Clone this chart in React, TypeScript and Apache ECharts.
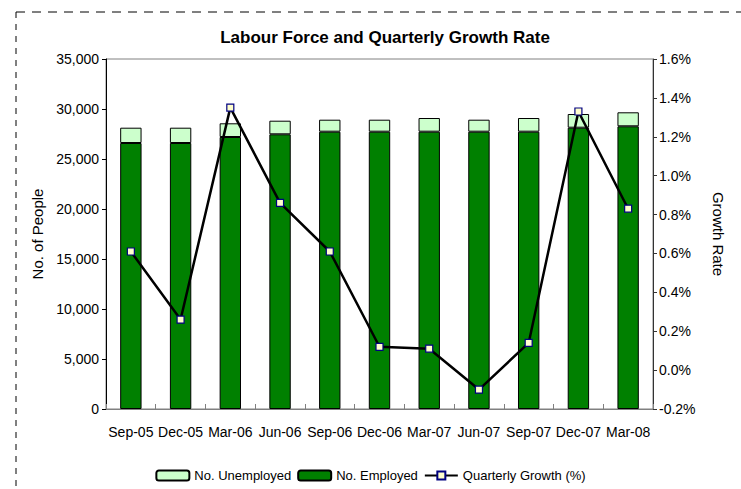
import React, { useEffect, useRef } from "react";
import * as echarts from "echarts";

const categories = ["Sep-05", "Dec-05", "Mar-06", "Jun-06", "Sep-06", "Dec-06", "Mar-07", "Jun-07", "Sep-07", "Dec-07", "Mar-08"];
const employed = [26600, 26600, 27200, 27470, 27730, 27730, 27730, 27730, 27730, 28130, 28270];
const unemployed = [1530, 1530, 1370, 1360, 1200, 1200, 1370, 1200, 1370, 1370, 1400];
const growth = [0.61, 0.26, 1.35, 0.86, 0.61, 0.12, 0.11, -0.1, 0.14, 1.33, 0.83];

const FONT = "'Liberation Sans', Arial, sans-serif";

export default function App() {
  const ref = useRef<HTMLDivElement>(null);
  useEffect(() => {
    document.body.style.margin = "0";
    const chart = echarts.init(ref.current!, null, { renderer: "svg" });
    chart.setOption({
      animation: false,
      backgroundColor: "#ffffff",
      textStyle: { fontFamily: FONT },
      title: {
        text: "Labour Force and Quarterly Growth Rate",
        left: 380,
        textAlign: "center",
        top: 24,
        textStyle: { fontFamily: FONT, fontSize: 17, fontWeight: "bold", color: "#000" },
      },
      graphic: [
        { type: "line", shape: { x1: 16, y1: 12, x2: 741, y2: 12 }, style: { stroke: "#000", lineWidth: 1, lineDash: [9, 7] } },
        { type: "line", shape: { x1: 16, y1: 12, x2: 16, y2: 489 }, style: { stroke: "#000", lineWidth: 1, lineDash: [6, 6] } },
      ],
      grid: { left: 106, right: 88, top: 59, bottom: 80, show: true, borderColor: "#808080", borderWidth: 1 },
      legend: {
        bottom: 2,
        left: "center",
        itemWidth: 33,
        itemHeight: 10,
        itemGap: 6,
        textStyle: { fontFamily: FONT, fontSize: 13, color: "#000" },
        data: ["No. Unemployed", "No. Employed", "Quarterly Growth (%)"],
      },
      xAxis: {
        type: "category",
        data: categories,
        axisLine: { lineStyle: { color: "#808080", width: 1 } },
        axisTick: { show: true, inside: true, length: 5, lineStyle: { color: "#808080" } },
        axisLabel: { color: "#000", fontSize: 14, fontFamily: FONT, margin: 16, interval: 0, hideOverlap: false },
      },
      yAxis: [
        {
          type: "value",
          min: 0,
          max: 35000,
          interval: 5000,
          name: "No. of People",
          nameLocation: "middle",
          nameRotate: 90,
          nameGap: 61,
          nameTextStyle: { fontFamily: FONT, fontSize: 15, color: "#000" },
          axisLine: { show: true, lineStyle: { color: "#000", width: 1 } },
          axisTick: { show: true, length: 4, lineStyle: { color: "#000" } },
          axisLabel: {
            color: "#000",
            fontSize: 14,
            fontFamily: FONT,
            margin: 7,
            formatter: (v: number) => v.toLocaleString("en-US"),
          },
          splitLine: { show: false },
        },
        {
          type: "value",
          min: -0.2,
          max: 1.6,
          interval: 0.2,
          name: "Growth Rate",
          nameLocation: "middle",
          nameRotate: -90,
          nameGap: 58,
          nameTextStyle: { fontFamily: FONT, fontSize: 15, color: "#000" },
          axisLine: { show: true, lineStyle: { color: "#333", width: 1 } },
          axisTick: { show: true, length: 4, lineStyle: { color: "#333" } },
          axisLabel: {
            color: "#000",
            fontSize: 14,
            fontFamily: FONT,
            margin: 6,
            formatter: (v: number) => v.toFixed(1) + "%",
          },
          splitLine: { show: false },
        },
      ],
      series: [
        {
          name: "No. Employed",
          type: "bar",
          stack: "lf",
          barWidth: "43%",
          data: employed,
          itemStyle: { color: "#008000", borderColor: "#000", borderWidth: 1 },
        },
        {
          name: "No. Unemployed",
          type: "bar",
          stack: "lf",
          barWidth: "43%",
          data: unemployed,
          itemStyle: { color: "#CCFFCC", borderColor: "#000", borderWidth: 1 },
        },
        {
          name: "Quarterly Growth (%)",
          type: "line",
          yAxisIndex: 1,
          data: growth,
          symbol: "rect",
          symbolSize: 7,
          z: 5,
          lineStyle: { color: "#000", width: 2.5 },
          itemStyle: { color: "#FFFFCC", borderColor: "#000080", borderWidth: 1.2 },
        },
      ],
    });
    return () => chart.dispose();
  }, []);
  return <div ref={ref} style={{ width: 741, height: 489 }} />;
}
